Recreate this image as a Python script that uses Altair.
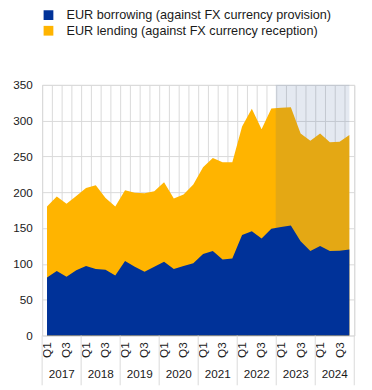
import altair as alt
import pandas as pd

years = [2017, 2018, 2019, 2020, 2021, 2022, 2023, 2024]
quarters = ["Q1", "Q2", "Q3", "Q4"]
borrowing = [81, 90, 82, 91, 97, 93, 92, 84,
             104, 96, 89, 96, 103, 93, 97, 101,
             114, 118, 106, 107.5, 140.5, 145.5, 135.5, 149,
             151.5, 153.6, 131.5, 118, 125, 118, 118.5, 120]
lending = [99, 104, 102, 104, 109, 117, 100, 96,
           99, 103.5, 109.5, 105.5, 111, 98.5, 100, 110,
           121, 130, 136, 134.5, 151.5, 171, 152.5, 168,
           166.5, 165, 150.5, 154, 157, 152, 152, 160]
series_names = ["EUR borrowing (against FX currency provision)",
                "EUR lending (against FX currency reception)"]
series_colors = ["#003299", "#FFB400"]
shade_period = [23.45, 31.0]  # quarter-index span of the shaded period

rows = []
for i, (b, l) in enumerate(zip(borrowing, lending)):
    rows.append(dict(idx=i, year=str(years[i // 4]), q=quarters[i % 4],
                     borrowing=b, lending=l))
df = pd.DataFrame(rows)
n = len(df)
shade_df = pd.DataFrame({"start": [shade_period[0]], "end": [shade_period[1]],
                         "top": [350], "bottom": [0]})

W, H = 320, 257
FONT = "Liberation Sans"
TXT = "#1a1a1a"
GRID = "#d9d9d9"

xscale = alt.Scale(domain=[-0.5, n - 0.5], nice=False, zero=False)
yscale = alt.Scale(domain=[0, 350], nice=False)
cscale = alt.Scale(domain=series_names, range=series_colors)

x_axis = alt.Axis(values=[k - 0.5 for k in range(n + 1)], labels=False, ticks=False,
                  domain=False, title=None, grid=True, gridColor=GRID)
y_axis = alt.Axis(values=list(range(0, 351, 50)), ticks=False, domain=False, title=None,
                  grid=True, gridColor=GRID, labelPadding=10, labelFontSize=12,
                  labelColor=TXT, labelFont=FONT)
legend = alt.Legend(orient="none", legendX=0, legendY=-78, title=None,
                    symbolType="square", symbolSize=100, symbolStrokeWidth=0,
                    labelFontSize=13, labelFont=FONT, labelColor=TXT,
                    labelOffset=12, rowPadding=2, padding=0, labelLimit=400)

base = alt.Chart(df)

yellow = base.transform_calculate(
    total="datum.borrowing + datum.lending",
    series=f"'{series_names[1]}'"
).mark_area(interpolate="linear").encode(
    x=alt.X("idx:Q", scale=xscale, axis=x_axis),
    y=alt.Y("total:Q", scale=yscale, axis=y_axis, stack=None),
    color=alt.Color("series:N", scale=cscale, legend=legend),
)

shade = alt.Chart(shade_df).mark_rect(color="#345A96", opacity=0.135).encode(
    x=alt.X("start:Q", scale=xscale, axis=x_axis),
    x2="end:Q",
    y=alt.Y("top:Q", scale=yscale, axis=y_axis),
    y2="bottom:Q",
)

blue = base.transform_calculate(
    series=f"'{series_names[0]}'"
).mark_area(interpolate="linear").encode(
    x=alt.X("idx:Q", scale=xscale, axis=x_axis),
    y=alt.Y("borrowing:Q", scale=yscale, axis=y_axis, stack=None),
    color=alt.Color("series:N", scale=cscale, legend=legend),
)

qlabels = base.transform_filter(
    "datum.q == 'Q1' || datum.q == 'Q3'"
).mark_text(angle=270, align="right", baseline="middle", fontSize=12,
            font=FONT, color=TXT).encode(
    x=alt.X("idx:Q", scale=xscale, axis=x_axis),
    y=alt.value(H + 7),
    text="q:N",
)

ylabels = base.mark_text(baseline="middle", align="center", fontSize=12,
                         font=FONT, color=TXT).encode(
    x=alt.X("mean(idx):Q", scale=xscale, axis=x_axis),
    y=alt.value(H + 40),
    text="year:N",
)

seps = base.transform_calculate(
    sep=f"datum.q == 'Q1' ? datum.idx - 0.5 : (datum.idx == {n - 1} ? datum.idx + 0.5 : -99)"
).transform_filter("datum.sep > -50").mark_rule(color=GRID, strokeWidth=1).encode(
    x=alt.X("sep:Q", scale=xscale, axis=x_axis),
    y=alt.value(H),
    y2=alt.value(H + 51),
)

chart = alt.layer(yellow, shade, blue, qlabels, ylabels, seps).properties(
    width=W, height=H,
    padding={"left": 35, "top": 74, "right": 10, "bottom": 50},
    autosize=alt.AutoSizeParams(type="none"),
).configure_view(stroke=None).configure(font=FONT)

chart.save("out.html", embed_options={"renderer": "svg", "actions": False})
